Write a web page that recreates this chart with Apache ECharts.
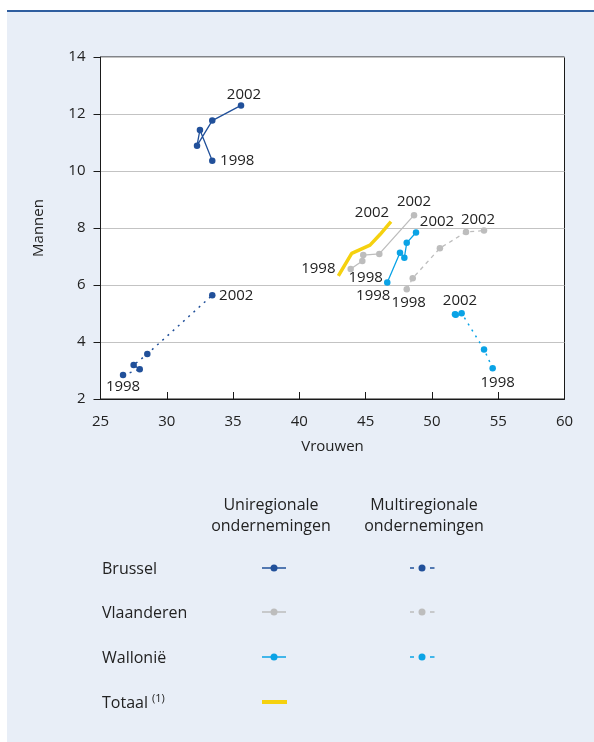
<!DOCTYPE html>
<html>
<head>
<meta charset="utf-8">
<script src="https://cdn.jsdelivr.net/npm/echarts@6/dist/echarts.min.js"></script>
<style>
  html, body { margin: 0; padding: 0; background: #ffffff; }
  #panel { position: absolute; left: 7px; top: 10px; width: 587px; height: 730px;
           background: #E8EEF7; border-top: 2px solid #2F5E9F; }
  #chart { position: absolute; left: 0; top: 0; width: 594px; height: 742px; }
</style>
</head>
<body>
<div id="panel"></div>
<div id="chart"></div>
<script>
// ---- data (Vrouwen = x, Mannen = y), years 1998..2002 ----
const years = [1998, 1999, 2000, 2001, 2002];

const brusselUniW = [33.43, 32.50, 32.28, 33.43, 35.60];
const brusselUniM = [10.36, 11.44, 10.89, 11.77, 12.30];

const brusselMultiW = [26.70, 27.96, 27.50, 28.53, 33.43];
const brusselMultiM = [2.84, 3.04, 3.19, 3.58, 5.64];

const vlaanderenUniW = [43.87, 44.75, 44.82, 46.03, 48.65];
const vlaanderenUniM = [6.56, 6.84, 7.05, 7.09, 8.45];

const vlaanderenMultiW = [48.10, 48.55, 50.60, 52.57, 53.93];
const vlaanderenMultiM = [5.85, 6.24, 7.29, 7.86, 7.91];

const wallonieUniW = [46.63, 47.59, 47.92, 48.10, 48.80];
const wallonieUniM = [6.09, 7.13, 6.96, 7.48, 7.84];

const wallonieMultiW = [54.58, 53.93, 52.24, 51.80, 51.74];
const wallonieMultiM = [3.08, 3.74, 5.01, 4.96, 4.97];

const totaalW = [42.94, 43.95, 45.33, 46.10, 46.91];
const totaalM = [6.32, 7.11, 7.40, 7.78, 8.22];

const xTicks = [25, 30, 35, 40, 45, 50, 55, 60];
const yTicks = [2, 4, 6, 8, 10, 12, 14];

const legendRows = ['Brussel', 'Vlaanderen', 'Wallonië', 'Totaal'];
const legendCols = ['Uniregionale\nondernemingen', 'Multiregionale\nondernemingen'];

// ---- styling ----
const FONT = 'Open Sans';
const TXT = '#222222';
const C_BRU = '#21509A';
const C_VLA = '#BDBDBD';
const C_WAL = '#0AA3E6';
const C_TOT = '#F5D10F';

// label offsets for first (1998) / last (2002) points [dx, dy]
const labelOffsets = {
  brusselUni:     [[25, 0],  [3, -11]],
  brusselMulti:   [[0, 12],  [24, 0]],
  vlaanderenUni:  [[15, 9],  [0, -13]],
  vlaanderenMulti:[[2, 13],  [-6, -11]],
  wallonieUni:    [[-14, 13],[21, -11]],
  wallonieMulti:  [[5, 15],  [5, -14]],
  totaal:         [[-20, -7],[-19, -9]]
};

function build(ws, ms, key) {
  const off = labelOffsets[key];
  return ws.map((w, i) => {
    const item = { value: [w, ms[i]], year: years[i] };
    if (i === 0 || i === ws.length - 1) {
      const o = i === 0 ? off[0] : off[1];
      item.label = {
        show: true, position: 'inside', offset: o,
        formatter: String(years[i]),
        color: TXT, fontSize: 15, fontFamily: FONT
      };
    }
    return item;
  });
}

function lineSeries(name, key, ws, ms, color, type, width, showSymbol) {
  return {
    name, type: 'line', data: build(ws, ms, key),
    symbol: 'circle',
    symbolSize: showSymbol ? 6.5 : 0.01,
    showSymbol: true,
    itemStyle: { color },
    lineStyle: { color, width, type },
    label: { show: false },
    z: showSymbol ? 3 : 2,
    animation: false
  };
}

const chart = echarts.init(document.getElementById('chart'), null, { renderer: 'canvas' });

const LX0 = 102;
const rowY = [568, 612, 657, 702];
const uniX0 = 262, uniX1 = 286, uniC = 274;
const mulC = 422;
const rowColors = [C_BRU, C_VLA, C_WAL];

const graphics = [];
legendRows.forEach((r, i) => {
  graphics.push({ type: 'text', left: LX0, top: rowY[i] - 7,
    style: { text: r, fill: TXT, font: '16px "' + FONT + '"' } });
});
graphics.push({ type: 'text', left: 152, top: rowY[3] - 9,
  style: { text: '(1)', fill: TXT, font: '11px "' + FONT + '"' } });
graphics.push({ type: 'text', x: 271, y: 495,
  style: { text: legendCols[0], fill: TXT, font: '16px "' + FONT + '"', align: 'center', lineHeight: 21 } });
graphics.push({ type: 'text', x: 424, y: 495,
  style: { text: legendCols[1], fill: TXT, font: '16px "' + FONT + '"', align: 'center', lineHeight: 21 } });
rowColors.forEach((c, i) => {
  const y = rowY[i];
  graphics.push({ type: 'line', shape: { x1: uniX0, y1: y, x2: uniX1, y2: y }, style: { stroke: c, lineWidth: 1.5 } });
  graphics.push({ type: 'circle', shape: { cx: uniC, cy: y, r: 3.5 }, style: { fill: c } });
  graphics.push({ type: 'line', shape: { x1: 410, y1: y, x2: 414, y2: y }, style: { stroke: c, lineWidth: 1.5 } });
  graphics.push({ type: 'line', shape: { x1: 430, y1: y, x2: 434.5, y2: y }, style: { stroke: c, lineWidth: 1.5 } });
  graphics.push({ type: 'circle', shape: { cx: mulC, cy: y, r: 3.5 }, style: { fill: c } });
});
graphics.push({ type: 'rect', shape: { x: 262, y: rowY[3] - 2, width: 25, height: 4 }, style: { fill: C_TOT } });

chart.setOption({
  animation: false,
  backgroundColor: 'transparent',
  textStyle: { fontFamily: FONT },
  grid: {
    left: 100.5, right: 29.5, top: 57, bottom: 343,
    show: true, backgroundColor: '#ffffff', borderColor: '#1a1a1a', borderWidth: 1
  },
  xAxis: {
    type: 'value', min: xTicks[0], max: xTicks[xTicks.length - 1], interval: 5,
    name: 'Vrouwen', nameLocation: 'middle', nameGap: 40,
    nameTextStyle: { color: TXT, fontSize: 15, fontFamily: FONT },
    axisLine: { show: true, onZero: false, lineStyle: { color: '#1a1a1a', width: 1 } },
    axisTick: { show: true, inside: true, length: 7, lineStyle: { color: '#1a1a1a' } },
    axisLabel: { color: TXT, fontSize: 15, fontFamily: FONT, margin: 15 },
    splitLine: { show: false }
  },
  yAxis: {
    type: 'value', min: yTicks[0], max: yTicks[yTicks.length - 1], interval: 2,
    name: 'Mannen', nameLocation: 'middle', nameGap: 54,
    nameTextStyle: { color: TXT, fontSize: 15, fontFamily: FONT },
    axisLine: { show: true, onZero: false, lineStyle: { color: '#1a1a1a', width: 1 } },
    axisTick: { show: true, inside: false, length: 7, lineStyle: { color: '#1a1a1a' } },
    axisLabel: { color: TXT, fontSize: 15, fontFamily: FONT, margin: 15 },
    splitLine: { show: true, lineStyle: { color: '#C3C3C3', width: 1 } }
  },
  series: [
    lineSeries('Vlaanderen multi', 'vlaanderenMulti', vlaanderenMultiW, vlaanderenMultiM, C_VLA, [4, 4], 1.3, true),
    lineSeries('Vlaanderen uni', 'vlaanderenUni', vlaanderenUniW, vlaanderenUniM, C_VLA, 'solid', 1.3, true),
    lineSeries('Totaal', 'totaal', totaalW, totaalM, C_TOT, 'solid', 3.5, false),
    lineSeries('Brussel uni', 'brusselUni', brusselUniW, brusselUniM, C_BRU, 'solid', 1.3, true),
    lineSeries('Brussel multi', 'brusselMulti', brusselMultiW, brusselMultiM, C_BRU, [2, 5], 1.5, true),
    lineSeries('Wallonië uni', 'wallonieUni', wallonieUniW, wallonieUniM, C_WAL, 'solid', 1.3, true),
    lineSeries('Wallonië multi', 'wallonieMulti', wallonieMultiW, wallonieMultiM, C_WAL, [2, 5], 1.5, true)
  ],
  graphic: graphics
});
</script>
</body>
</html>
